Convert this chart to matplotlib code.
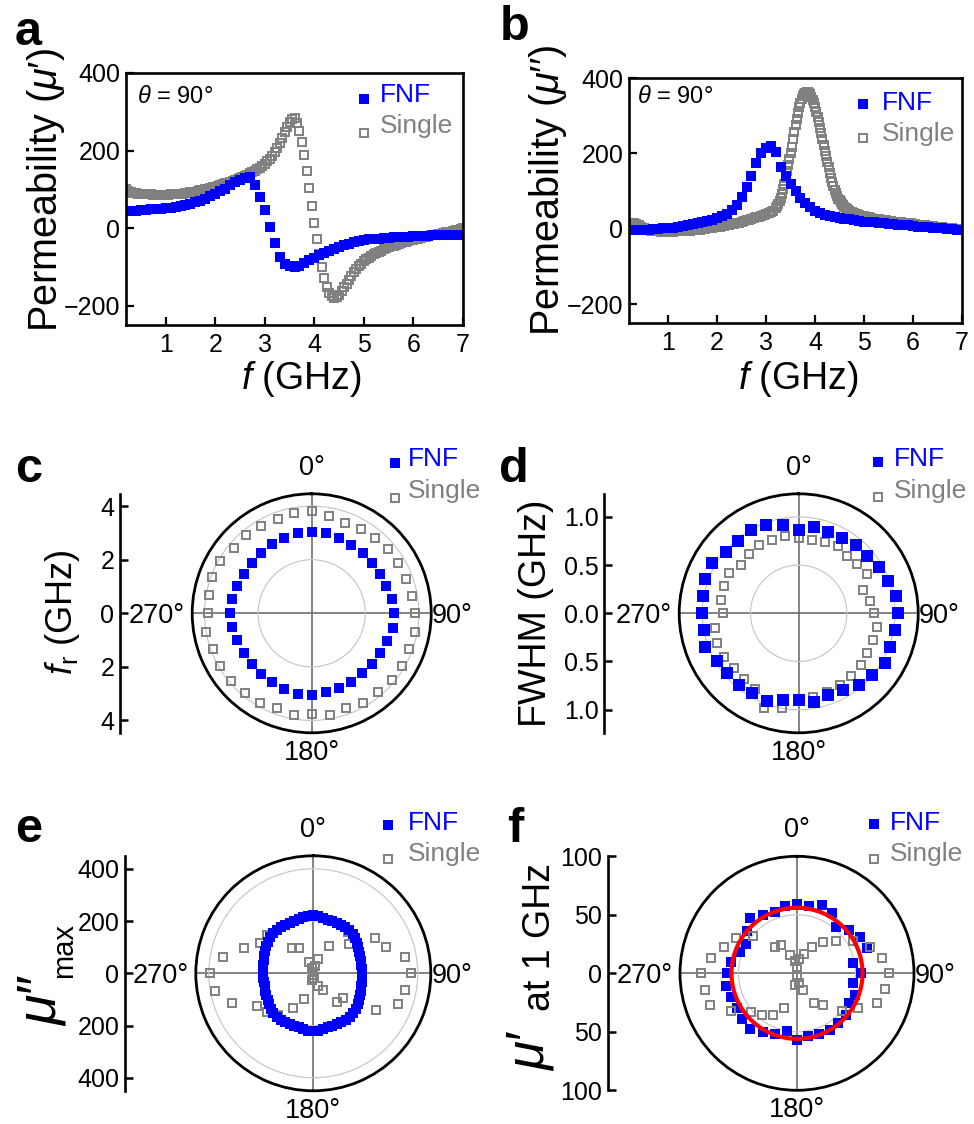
import numpy as np
import matplotlib
matplotlib.use("Agg")
import matplotlib.pyplot as plt
from matplotlib.lines import Line2D

plt.rcParams["font.family"] = ["Liberation Sans", "DejaVu Sans"]
plt.rcParams["mathtext.fontset"] = "custom"
plt.rcParams["mathtext.rm"] = "Liberation Sans"
plt.rcParams["mathtext.it"] = "Liberation Sans:italic"
plt.rcParams["mathtext.bf"] = "Liberation Sans:bold"

BLUE = "#0000ff"
GRAY = "#808080"

# ---------------- data: spectra at theta = 90 deg ----------------
# FNF sampled every 0.1 GHz, Single every 0.05 GHz (finer around the peak in b)
freq_fnf = np.round(np.arange(0.2, 7.001, 0.1), 2)
freq_single_a = np.round(np.arange(0.2, 7.001, 0.05), 3)
freq_single_b = np.round(np.concatenate([np.arange(0.2, 3.175, 0.05),
                                         np.arange(3.2, 4.69, 0.025),
                                         np.arange(4.7, 7.001, 0.05)]), 3)

mu1_fnf = [43, 44, 45, 46, 47, 48, 49, 50, 51, 53,
           55, 57, 60, 63, 67, 71, 76, 82, 88, 95,
           102, 110, 118, 125, 130, 132, 112, 80, 46, 3,
           -39, -75, -92, -99, -100, -97, -90, -83, -76, -69,
           -63, -58, -53, -48, -44, -40, -36, -33, -31, -29,
           -28, -27, -26, -25, -24, -23, -22, -22, -21, -21,
           -20, -20, -19, -19, -18, -18, -17, -17, -17]

mu1_single = [100, 96, 93, 91, 90, 89, 88, 88, 87, 87,
              87, 86, 86, 86, 86, 86, 86, 86, 87, 87,
              87, 88, 88, 89, 90, 91, 92, 93, 94, 95,
              97, 98, 100, 101, 103, 105, 107, 109, 111, 113,
              115, 117, 119, 121, 124, 126, 129, 132, 135, 138,
              141, 144, 148, 152, 156, 161, 166, 172, 179, 187,
              196, 207, 219, 233, 248, 262, 274, 282, 283, 270,
              250, 222, 188, 148, 104, 58, 14, -28, -66, -100,
              -129, -151, -167, -176, -180, -178, -172, -163, -153, -143,
              -133, -123, -114, -106, -99, -92, -86, -81, -76, -72,
              -68, -64, -61, -58, -55, -52, -50, -47, -45, -43,
              -41, -39, -37, -35, -33, -31, -30, -28, -27, -25,
              -24, -22, -21, -19, -18, -17, -15, -14, -13, -11,
              -10, -9, -7, -6, -4, -3, -1]

mu2_fnf = [-4, -4, -3, -3, -2, -1, 0, 1, 2, 3,
           5, 7, 9, 12, 14, 17, 20, 24, 28, 33,
           40, 50, 64, 84, 110, 140, 175, 200, 214, 219,
           205, 165, 140, 118, 100, 82, 68, 57, 47, 41,
           37, 34, 31, 29, 27, 25, 23, 21, 19, 18,
           17, 16, 14, 13, 12, 11, 10, 9, 7, 6,
           5, 4, 3, 2, 1, 0, -1, -2, -3]

mu2_single = [8, 12, 14, 13, 10, 6, 2, -1, -3, -5,
              -6, -7, -7, -8, -8, -8, -8, -8, -8, -7,
              -7, -7, -6, -6, -5, -5, -4, -3, -3, -2,
              -1, 0, 1, 2, 3, 4, 5, 6, 7, 8,
              9, 10, 12, 13, 15, 16, 18, 20, 22, 24,
              26, 28, 30, 32, 34, 36, 38, 41, 44, 48,
              55, 60, 66, 73, 82, 93, 106, 120, 136, 152,
              168, 184, 200, 218, 237, 256, 275, 292, 308, 322,
              333, 343, 351, 357, 361, 363, 363, 361, 357, 350,
              342, 333, 322, 310, 297, 283, 268, 253, 238, 222,
              207, 192, 177, 163, 149, 136, 124, 113, 103, 94,
              86, 80, 75, 70, 66, 62, 58, 55, 52, 50,
              47, 44, 41, 39, 37, 35, 33, 31, 30, 29,
              27, 26, 25, 24, 23, 22, 21, 20, 19, 19,
              18, 17, 16, 15, 14, 14, 13, 12, 11, 11,
              10, 9, 8, 8, 7, 6, 5, 5, 4, 3,
              2, 2, 1, 0, 0, -1, -2]

# ---------------- data: angular dependence ----------------
angle_10 = np.arange(0, 360, 10)
angle_5 = np.arange(0, 360, 5)

fr_fnf = [3.05, 3.04, 2.99, 2.96, 2.96, 2.92, 2.93, 2.96, 3.05, 3.07, 3.07, 2.98,
          2.95, 2.93, 2.93, 2.95, 2.97, 3.00, 3.05, 3.05, 3.00, 2.97, 2.95, 2.93,
          2.93, 2.96, 3.02, 3.05, 3.02, 2.96, 2.93, 2.93, 2.95, 2.97, 3.00, 3.03]
fr_single = [3.80, 3.67, 3.59, 3.65, 3.67, 3.72, 3.74, 3.73, 3.79, 3.86, 3.92, 3.86,
             3.91, 3.89, 3.85, 3.85, 3.78, 3.86, 3.74, 3.86, 3.78, 3.88, 3.89, 3.93,
             3.96, 3.92, 3.99, 3.86, 3.91, 3.96, 3.94, 3.80, 3.80, 3.77, 3.73, 3.80]

fwhm_fnf = [0.86, 0.91, 0.90, 0.90, 0.92, 0.93, 0.96, 0.99, 1.03, 1.03, 1.01, 1.01,
            1.04, 0.99, 0.97, 0.92, 0.90, 0.93, 0.90, 0.91, 0.97, 0.96, 0.97, 0.97,
            0.98, 1.03, 1.00, 1.00, 1.01, 1.03, 1.04, 0.99, 0.98, 1.00, 0.98, 0.93]
fwhm_single = [0.78, 0.77, 0.785, 0.81, 0.78, 0.79, 0.82, 0.71, 0.75, 0.78, 0.825, 0.82,
               0.82, 0.84, 0.845, 0.86, 0.87, 0.88, 0.90, 1.00, 1.05, 0.91, 0.89, 0.88,
               0.90, 0.90, 0.88, 0.79, 0.82, 0.82, 0.83, 0.78, 0.81, 0.82, 0.81, 0.81]

mumax_fnf = [222, 220, 216, 213, 212, 212, 213, 215, 215, 213, 208, 203,
             198, 193, 190, 188, 187, 187, 187, 188, 189, 191, 194, 198,
             203, 208, 213, 216, 217, 216, 214, 213, 213, 214, 217, 220,
             222, 220, 217, 214, 213, 213, 214, 216, 217, 216, 212, 207,
             202, 198, 195, 193, 192, 192, 193, 193, 194, 196, 199, 203,
             207, 211, 214, 216, 217, 216, 214, 213, 214, 216, 219, 221]
mumax_single = [5, 30, 57, 119, 205, 176, 274, 298, 356, 376, 358, 346,
                278, 150, 143, 74, 52, 20, 8, 26, 103, 154, 210, 232,
                250, 330, 384, 395, 353, 284, 235, 231, 126, 111, 48, 20]

mu1ghz_fnf = [59, 58, 62, 60, 52, 58, 62, 64, 49, 55, 49, 53,
              51, 55, 55, 56, 55, 54, 57, 50, 55, 58, 62, 61,
              59, 60, 62, 60, 57, 52, 50, 56, 62, 58, 56, 58]
mu1ghz_single = [5, 12, 18, 26, 35, 43, 55, 66, 74, 79, 76, 73,
                 60, 50, 35, 29, 15, 8, 3, 10, 32, 41, 46, 51,
                 65, 79, 80, 82, 75, 66, 60, 49, 29, 28, 17, 11]
fit_radius = 56

# ---------------- figure ----------------
W, H = 974, 1124
fig = plt.figure(figsize=(W / 100, H / 100), dpi=100)


def fx(px):
    return px / W


def fy(py):
    return 1 - py / H


def legend(mx, my, tx, ty, dy, ms_f=7, ms_s=5.5):
    fig.add_artist(Line2D([fx(mx)], [fy(my)], marker="s", ms=ms_f, mfc=BLUE, mec="none",
                          mew=0, transform=fig.transFigure))
    fig.add_artist(Line2D([fx(mx)], [fy(my + dy)], marker="s", ms=ms_s, mfc="none", mec=GRAY,
                          mew=1.4, transform=fig.transFigure))
    fig.text(fx(tx), fy(ty + 9.5), "FNF", color=BLUE, size=19, ha="left", va="baseline")
    fig.text(fx(tx), fy(ty + dy + 6.5), "Single", color=GRAY, size=19, ha="left", va="baseline")


def spectrum_panel(box, f_s, y_s, f_f, y_f, ylabel, ylab_x, xlab_x, theta_x):
    l, t, r, b = box
    ax = fig.add_axes([fx(l), fy(b), (r - l) / W, (b - t) / H])
    ax.plot(f_s, y_s, ls="none", marker="s", ms=5.3, mfc="none", mec=GRAY, mew=1.4)
    ax.plot(f_f, y_f, ls="none", marker="s", ms=6.9, mfc=BLUE, mec="none", mew=0)
    ax.set_xlim(0.2, 7.0)
    ax.set_ylim(-250, 400)
    ax.set_xticks(range(1, 8))
    ax.set_yticks([-200, 0, 200, 400])
    ax.tick_params(direction="in", length=6, width=1.6, labelsize=18)
    ax.tick_params(axis="x", pad=6)
    ax.tick_params(axis="y", pad=4)
    for s in ax.spines.values():
        s.set_linewidth(1.9)
    fig.text(fx(theta_x), fy(103), r"$\theta$ = 90°", size=17, ha="left", va="baseline")
    fig.text(fx(ylab_x), fy(190), ylabel, size=28.5, rotation=90, rotation_mode="anchor",
             ha="center", va="baseline")
    fig.text(fx(xlab_x), fy(389), r"$f$ (GHz)", size=27, ha="center", va="baseline")
    return ax


def polar_panel(cx, cy, R, rmax, rgrid, th_s, r_s, th_f, r_f, ms_f, ms_s, gray_on_top=False):
    ax = fig.add_axes([fx(cx - R), fy(cy + R), 2 * R / W, 2 * R / H], projection="polar")
    ax.set_theta_zero_location("N")
    ax.set_theta_direction(-1)
    ax.set_rlim(0, rmax)
    ax.set_thetagrids([0, 90, 180, 270], labels=["", "", "", ""])
    ax.set_rgrids(rgrid, labels=[""] * len(rgrid))
    ax.xaxis.grid(True, color="#6e6e6e", lw=1.2)
    ax.yaxis.grid(True, color="#c4c4c4", lw=0.8)
    ax.spines["polar"].set_linewidth(2.0)
    ax.tick_params(length=0)
    z_s, z_f = (4, 3) if gray_on_top else (3, 4)
    ax.plot(np.deg2rad(th_s), r_s, ls="none", marker="s", ms=ms_s, mfc="none", mec=GRAY,
            mew=1.4, zorder=z_s, clip_on=False)
    ax.plot(np.deg2rad(th_f), r_f, ls="none", marker="s", ms=ms_f, mfc=BLUE, mec="none",
            mew=0, zorder=z_f, clip_on=False)
    # angle labels
    fs = 19.5
    fig.text(fx(cx), fy(cy - R - 19), "0°", size=fs, ha="center", va="baseline")
    fig.text(fx(cx), fy(cy + R + 27), "180°", size=fs, ha="center", va="baseline")
    fig.text(fx(cx - R - 7), fy(cy + 9.5), "270°", size=fs, ha="right", va="baseline")
    fig.text(fx(cx + R + 1), fy(cy + 9.5), "90°", size=fs, ha="left", va="baseline")
    return ax


def radial_axis(spine_x, cy, R, rmax, ticks, labels):
    ax = fig.add_axes([fx(spine_x), fy(cy + R), 0.02, 2 * R / H])
    ax.set_ylim(-rmax, rmax)
    ax.set_xticks([])
    for s in ["top", "right", "bottom"]:
        ax.spines[s].set_visible(False)
    ax.spines["left"].set_linewidth(1.9)
    ax.set_yticks(ticks)
    ax.set_yticklabels(labels)
    ax.tick_params(axis="y", direction="in", length=6, width=1.8, labelsize=18, pad=4)
    ax.patch.set_visible(False)
    return ax


# a, b
spectrum_panel((126, 73, 463, 325), freq_single_a, mu1_single, freq_fnf, mu1_fnf,
               "Permeability ($\\mu$\u2032)", 57, 301, 137)
legend(364, 99, 380, 93, 34)
spectrum_panel((629, 78, 962, 323), freq_single_b, mu2_single, freq_fnf, mu2_fnf,
               "Permeability ($\\mu$\u2032\u2032)", 559, 798, 637)
legend(862.7, 104, 882, 100, 34)

# c
polar_panel(311.7, 613.3, 119.5, 4.46, [2, 4], angle_10, fr_single, angle_10, fr_fnf, 7.8, 6.0)
radial_axis(120, 613.3, 119.5, 4.46, [-4, -2, 0, 2, 4], ["4", "2", "0", "2", "4"])
fig.text(fx(72), fy(612), r"$f_{\mathregular{r}}$ (GHz)", size=26, rotation=90,
         rotation_mode="anchor", ha="center", va="baseline")
legend(395, 462.7, 408, 456.7, 35)

# d
polar_panel(798.7, 613.3, 119.5, 1.24, [0.5, 1.0], angle_10, fwhm_single, angle_10, fwhm_fnf, 9.0, 6.0)
radial_axis(604.3, 613.3, 119.5, 1.24, [-1.0, -0.5, 0, 0.5, 1.0],
            ["1.0", "0.5", "0.0", "0.5", "1.0"])
fig.text(fx(546), fy(613), "FWHM (GHz)", size=27, rotation=90,
         rotation_mode="anchor", ha="center", va="baseline")
legend(877.7, 461.7, 893.7, 456.7, 35)

# e
polar_panel(313.3, 973.3, 117.5, 450, [200, 400], angle_10, mumax_single, angle_5, mumax_fnf, 7.4, 6.0)
radial_axis(125, 973.3, 117.5, 450, [-400, -200, 0, 200, 400], ["400", "200", "0", "200", "400"])
fig.text(fx(55), fy(1000), "$\\mu$\u2033", size=40, rotation=90,
         rotation_mode="anchor", ha="center", va="baseline")
fig.text(fx(72), fy(950), "max", size=21, rotation=90,
         rotation_mode="anchor", ha="center", va="baseline")
legend(388.3, 825, 408.3, 820, 34)

# f
axf = polar_panel(797, 973.3, 117, 100, [50], angle_10, mu1ghz_single, angle_10, mu1ghz_fnf,
                  7.8, 6.0, gray_on_top=True)
fit_theta = np.linspace(0, 2 * np.pi, 361)
axf.plot(fit_theta, np.full_like(fit_theta, fit_radius), color="#ff0000", lw=3.0, zorder=6)
radial_axis(607.7, 973.3, 117, 100, [-100, -50, 0, 50, 100], ["100", "50", "0", "50", "100"])
fig.text(fx(543), fy(1051), "$\\mu$\u2032", size=38, rotation=90,
         rotation_mode="anchor", ha="center", va="baseline")
fig.text(fx(550), fy(937), "at 1 GHz", size=27, rotation=90,
         rotation_mode="anchor", ha="center", va="baseline")
legend(873.7, 824, 890.3, 820, 35)

# panel letters
for letter, x, y in [("a", 15, 45), ("b", 500, 40), ("c", 15, 482),
                     ("d", 499, 482), ("e", 15, 842), ("f", 507, 842)]:
    fig.text(fx(x), fy(y), letter, size=35, weight="bold", ha="left", va="baseline")

fig.savefig("out.png", dpi=100)
